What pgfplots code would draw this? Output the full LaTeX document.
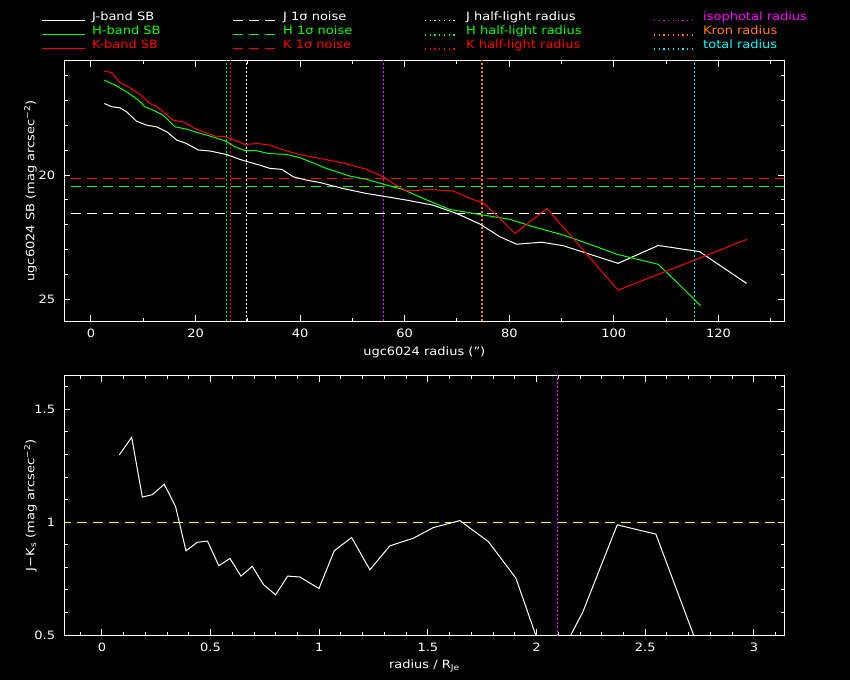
\documentclass[border=0pt]{standalone}
\usepackage{fontspec}
\setmainfont{DejaVu Sans}[FakeStretch=1.13]
\usepackage{pgfplots}
\pgfplotsset{compat=1.18}
\definecolor{pgred}{RGB}{255,0,0}
\definecolor{pggreen}{RGB}{0,255,0}
\definecolor{pgmag}{RGB}{255,0,255}
\definecolor{pgorange}{RGB}{255,128,0}
\definecolor{pgcyan}{RGB}{0,255,255}
\definecolor{pgyellow}{RGB}{255,255,0}
\newcommand\f{\fontsize{11.5}{13}\selectfont}
\pgfplotsset{pg/.style={
  scale only axis, width=720pt,
  axis line style={white, line width=1pt},
  tick style={white, line width=1pt},
  major tick length=6pt, minor tick length=3.5pt,
  tick align=inside, xtick pos=both, ytick pos=both,
  xticklabel pos=lower, yticklabel pos=left,
  every x tick label/.style={white, font=\f, anchor=base, yshift=-16.3pt, inner sep=0pt},
  every y tick label/.style={white, font=\f, anchor=east, xshift=-9pt, inner sep=0pt},
  /pgf/number format/assume math mode=true,
  every axis x label/.style={white, font=\f, at={(axis description cs:0.5,-0.131)}, anchor=base},
  every axis y label/.style={white, font=\f, at={(axis description cs:-0.047,0.5)}, anchor=center, rotate=90},
  every axis plot/.append style={line width=1pt},
  no marks,
}}
\tikzset{dsh/.style={dash pattern=on 10pt off 6pt},
  dts/.style={dash pattern=on 2pt off 2pt, line width=1.2pt},
  ldts/.style={dash pattern=on 1.3pt off 3.4pt, line width=1.2pt}}
\begin{document}
\begin{tikzpicture}[x=1pt,y=1pt,font=\f]
\fill[black] (0,0) rectangle (850,680);
% legend
\draw[white, line width=1pt] (42,659.3) -- (85,659.3);
\draw[pggreen, line width=1pt] (42,645) -- (85,645);
\draw[pgred, line width=1pt] (42,631) -- (85,631);
\node[white, anchor=base west, inner sep=0pt] at (92,659.3) {J-band SB};
\node[pggreen, anchor=base west, inner sep=0pt] at (92,645) {H-band SB};
\node[pgred, anchor=base west, inner sep=0pt] at (92,631) {K-band SB};
\draw[white, line width=1pt, dsh] (233,659.3) -- (277,659.3);
\draw[pggreen, line width=1pt, dsh] (233,645) -- (277,645);
\draw[pgred, line width=1pt, dsh] (233,631) -- (277,631);
\node[white, anchor=base west, inner sep=0pt] at (283,659.3) {J 1σ noise};
\node[pggreen, anchor=base west, inner sep=0pt] at (283,645) {H 1σ noise};
\node[pgred, anchor=base west, inner sep=0pt] at (283,631) {K 1σ noise};
\draw[white, ldts] (425,659.3) -- (457,659.3);
\draw[pggreen, ldts] (425,645) -- (457,645);
\draw[pgred, ldts] (425,631) -- (457,631);
\node[white, anchor=base west, inner sep=0pt] at (466,659.3) {J half-light radius};
\node[pggreen, anchor=base west, inner sep=0pt] at (466,645) {H half-light radius};
\node[pgred, anchor=base west, inner sep=0pt] at (466,631) {K half-light radius};
\draw[pgmag, ldts] (654,659.3) -- (693,659.3);
\draw[pgorange, ldts] (654,645) -- (693,645);
\draw[pgcyan, ldts] (654,631) -- (693,631);
\node[pgmag, anchor=base west, inner sep=0pt] at (703,659.3) {isophotal radius};
\node[pgorange, anchor=base west, inner sep=0pt] at (703,645) {Kron radius};
\node[pgcyan, anchor=base west, inner sep=0pt] at (703,631) {total radius};

\begin{axis}[pg, at={(64.3pt,359pt)}, anchor=south west, height=260pt,
  xmin=-5.1, xmax=132.6, ymin=15.41, ymax=25.87, y dir=reverse,
  xtick={0,20,...,120}, minor xtick={10,30,...,130},
  ytick={20,25}, minor ytick={16,17,18,19,21,22,23,24},
  xlabel={ugc6024 radius (\char34)},
  ylabel={ugc6024 SB (mag arcsec\textsuperscript{−2})}]
\addplot[white, dsh] coordinates {(-10,21.54) (140,21.54)};
\addplot[pggreen, dsh] coordinates {(-10,20.46) (140,20.46)};
\addplot[pgred, dsh] coordinates {(-10,20.13) (140,20.13)};
\addplot[pggreen, dts] coordinates {(25.87,10) (25.87,30)};
\addplot[pgred, dts] coordinates {(26.64,10) (26.64,30)};
\addplot[white, dts] coordinates {(29.77,10) (29.77,30)};
\addplot[pgmag, dts] coordinates {(55.9,10) (55.9,30)};
\addplot[pgorange, dts] coordinates {(74.8,10) (74.8,30)};
\addplot[pgcyan, dts] coordinates {(115.4,10) (115.4,30)};
\addplot[white] coordinates {(2.55,17.12) (3.95,17.25) (5.5,17.29) (6.8,17.45) (8.7,17.83) (10.65,17.99) (12.56,18.06) (14.5,18.26) (16.4,18.59) (18.3,18.73) (20.5,18.99) (22.75,19.03) (25.9,19.17) (28.5,19.37) (30.1,19.47) (32.3,19.6) (34.2,19.73) (36.5,19.77) (38.7,20.07) (41.2,20.2) (43.8,20.3) (48.2,20.54) (52.7,20.74) (56.5,20.87) (61,21.03) (65.4,21.21) (69.9,21.54) (74.4,21.97) (78.2,22.48) (81.4,22.78) (86.2,22.7) (90.3,22.84) (100.8,23.55) (108.5,22.83) (116.4,23.08) (125.4,24.36)};
\addplot[pggreen] coordinates {(2.55,16.18) (4.6,16.38) (6.8,16.65) (9.05,16.98) (10.3,17.25) (11.9,17.39) (13.8,17.59) (16.1,18.06) (18.3,18.15) (20.2,18.28) (22.75,18.43) (25.75,18.63) (27.5,18.86) (29.45,19.02) (31.7,19.02) (33.9,19.13) (37.4,19.17) (40,19.3) (45,19.73) (49.5,20.04) (52.7,20.17) (56.5,20.4) (59.7,20.58) (64.2,21.0) (68.6,21.38) (73.1,21.54) (80.1,21.78) (84.6,22.08) (90.3,22.41) (96.7,22.88) (100.5,23.18) (108.5,23.59) (112.6,24.42) (116.6,25.26)};
\addplot[pgred] coordinates {(2.55,15.82) (3.95,15.87) (5.5,16.27) (7.46,16.49) (9.37,16.75) (11.3,17.12) (12.56,17.25) (13.8,17.45) (15.7,17.79) (17.65,17.86) (19.6,18.1) (21.5,18.26) (23.7,18.43) (25.75,18.46) (27.9,18.63) (29.45,18.77) (31.7,18.73) (34.2,18.79) (36.8,18.99) (40,19.18) (43.8,19.33) (48.2,19.51) (52.7,19.77) (55.9,20.07) (57.8,20.34) (60.4,20.64) (64.8,20.58) (69.3,20.64) (72.5,20.94) (75,21.11) (78.2,21.74) (81.1,22.35) (87.2,21.34) (100.8,24.63) (125.4,22.59)};
\end{axis}

\begin{axis}[pg, at={(64.3pt,45pt)}, anchor=south west, height=259.3pt,
  xmin=-0.173, xmax=3.14, ymin=0.5, ymax=1.649,
  xtick={0,0.5,...,3}, minor xtick={-0.1,0.1,0.2,0.3,0.4,0.6,0.7,0.8,0.9,1.1,1.2,1.3,1.4,1.6,1.7,1.8,1.9,2.1,2.2,2.3,2.4,2.6,2.7,2.8,2.9,3.1},
  ytick={0.5,1,1.5}, minor ytick={0.6,0.7,0.8,0.9,1.1,1.2,1.3,1.4,1.6},
  xlabel={radius / R\textsubscript{Je}},
  ylabel={J−K\textsubscript{s} (mag arcsec\textsuperscript{−2})}]
\addplot[pgyellow, dsh] coordinates {(-1,1) (4,1)};
\addplot[pgmag, dts] coordinates {(2.097,0) (2.097,2)};
\addplot[white] coordinates {(0.080,1.298) (0.137,1.376) (0.186,1.111) (0.232,1.122) (0.287,1.168) (0.339,1.069) (0.387,0.873) (0.439,0.911) (0.486,0.916) (0.538,0.807) (0.589,0.839) (0.640,0.761) (0.692,0.804) (0.744,0.723) (0.799,0.678) (0.855,0.761) (0.911,0.757) (0.999,0.706) (1.069,0.873) (1.149,0.932) (1.233,0.789) (1.325,0.895) (1.433,0.929) (1.525,0.976) (1.647,1.007) (1.778,0.914) (1.905,0.752) (2.05,0.35) (2.13,0.45) (2.212,0.600) (2.371,0.988) (2.549,0.947) (2.80,0.30)};
\end{axis}
\pgfresetboundingbox
\useasboundingbox (0,0) rectangle (850,680);
\end{tikzpicture}
\end{document}
